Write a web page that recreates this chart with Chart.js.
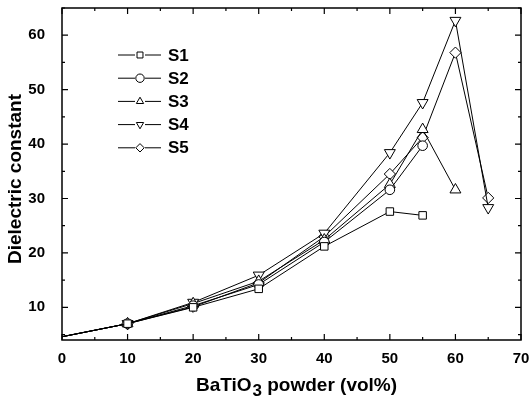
<!DOCTYPE html>
<html>
<head>
<meta charset="utf-8">
<script src="https://cdn.jsdelivr.net/npm/chart.js@4/dist/chart.umd.min.js"></script>
<style>
  html, body { margin: 0; padding: 0; background: #fff; }
  #wrap { width: 530px; height: 399px; }
</style>
</head>
<body>
<div id="wrap"><canvas id="dielectric_chart" width="530" height="399"></canvas></div>
<script>
// BaTiO3 loading (vol%) and measured dielectric constant per sample
const volPct = [0, 10, 20, 30, 40, 50, 55, 60, 65];
const s1 = [4.6, 7.0, 10.0, 13.4, 21.2, 27.6, 26.9, null, null];
const s2 = [4.6, 7.0, 10.3, 14.2, 22.0, 31.6, 39.7, null, null];
const s3 = [4.6, 7.0, 10.7, 14.8, 22.4, 32.6, 42.7, 31.6, null];
const s4 = [4.6, 7.0, 10.9, 15.9, 23.6, 38.4, 47.6, 62.7, 28.3];
const s5 = [4.6, 7.0, 10.1, 14.5, 23.0, 34.5, 41.2, 56.8, 30.1];
const seriesNames = ['S1', 'S2', 'S3', 'S4', 'S5'];

const xTicks = [0, 10, 20, 30, 40, 50, 60, 70];
const yTicks = [10, 20, 30, 40, 50, 60];

const FONT = '"Liberation Sans", Arial, Helvetica, sans-serif';

function toPoints(vals) {
  return volPct.map((x, i) => ({ x: x, y: vals[i] })).filter(p => p.y !== null);
}

const markers = [
  { style: 'rect', rot: 0, r: 5.3 },
  { style: 'circle', rot: 0, r: 4.8 },
  { style: 'triangle', rot: 0, r: 6.3 },
  { style: 'triangle', rot: 180, r: 6.3 },
  { style: 'rectRot', rot: 0, r: 5.6 }
];

const datasets = [s1, s2, s3, s4, s5].map((vals, i) => ({
  label: seriesNames[i],
  data: toPoints(vals),
  borderColor: '#000',
  borderWidth: 1,
  backgroundColor: '#fff',
  pointStyle: markers[i].style,
  pointRotation: markers[i].rot,
  pointRadius: ctx => (ctx.raw && ctx.raw.x === 0 ? 0 : markers[i].r),
  pointBorderColor: '#000',
  pointBackgroundColor: '#fff',
  pointBorderWidth: 1,
  tension: 0,
  clip: 8
}));

// frame with inward ticks on all four sides, titles and the inset legend
const framePlugin = {
  id: 'framePlugin',
  afterDraw(chart) {
    const ctx = chart.ctx;
    const a = chart.chartArea;
    const xs = chart.scales.x, ys = chart.scales.y;
    ctx.save();
    ctx.strokeStyle = '#000';
    ctx.lineWidth = 1.5;
    ctx.strokeRect(a.left, a.top, a.right - a.left, a.bottom - a.top);

    ctx.lineWidth = 1.2;
    ctx.beginPath();
    for (let v = 0; v <= 70; v += 5) {
      const px = xs.getPixelForValue(v);
      const len = v % 10 === 0 ? 6 : 3;
      ctx.moveTo(px, a.bottom); ctx.lineTo(px, a.bottom - len);
      ctx.moveTo(px, a.top); ctx.lineTo(px, a.top + len);
    }
    for (let v = 5; v <= 65; v += 5) {
      const py = ys.getPixelForValue(v);
      const len = v % 10 === 0 ? 6 : 3;
      ctx.moveTo(a.left, py); ctx.lineTo(a.left + len, py);
      ctx.moveTo(a.right, py); ctx.lineTo(a.right - len, py);
    }
    ctx.stroke();

    // y title
    ctx.fillStyle = '#000';
    ctx.font = 'bold 19px ' + FONT;
    ctx.textAlign = 'center';
    ctx.textBaseline = 'middle';
    ctx.save();
    ctx.translate(16, 179);
    ctx.rotate(-Math.PI / 2);
    ctx.fillText('Dielectric constant', 0, 0);
    ctx.restore();

    // x title with subscript
    const p1 = 'BaTiO', p2 = '3', p3 = ' powder (vol%)';
    ctx.textAlign = 'left';
    ctx.textBaseline = 'alphabetic';
    ctx.font = 'bold 19px ' + FONT;
    const w1 = ctx.measureText(p1).width;
    const w3 = ctx.measureText(p3).width;
    ctx.font = 'bold 17px ' + FONT;
    const w2 = ctx.measureText(p2).width;
    let tx = 296 - (w1 + w2 + w3) / 2;
    const base = 391;
    ctx.font = 'bold 19px ' + FONT;
    ctx.fillText(p1, tx, base); tx += w1;
    ctx.font = 'bold 17px ' + FONT;
    ctx.fillText(p2, tx + 1, base + 5); tx += w2 + 1;
    ctx.font = 'bold 19px ' + FONT;
    ctx.fillText(p3, tx, base);

    // legend
    const rowY = 55, step = 23.2;
    chart.data.datasets.forEach((ds, i) => {
      const y = rowY + i * step;
      ctx.strokeStyle = '#000';
      ctx.lineWidth = 1;
      ctx.beginPath();
      ctx.moveTo(118, y); ctx.lineTo(135, y);
      ctx.moveTo(145, y); ctx.lineTo(161, y);
      ctx.stroke();
      ctx.fillStyle = '#fff';
      const opts = { pointStyle: ds.pointStyle, rotation: ds.pointRotation, radius: 4.2, borderWidth: 1 };
      if (Chart.helpers && Chart.helpers.drawPoint) {
        Chart.helpers.drawPoint(ctx, opts, 140, y);
      }
      ctx.fillStyle = '#000';
      ctx.font = 'bold 17px ' + FONT;
      ctx.textAlign = 'left';
      ctx.textBaseline = 'middle';
      ctx.fillText(ds.label, 168, y + 1);
    });
    ctx.restore();
  }
};

new Chart(document.getElementById('dielectric_chart'), {
  type: 'line',
  data: { datasets: datasets },
  options: {
    responsive: false,
    animation: false,
    layout: { padding: { top: 8, right: 9, left: 0, bottom: 0 } },
    plugins: {
      legend: { display: false },
      tooltip: { enabled: false }
    },
    scales: {
      x: {
        type: 'linear',
        min: 0,
        max: 70,
        afterBuildTicks: scale => { scale.ticks = xTicks.map(v => ({ value: v })); },
        afterFit: scale => {
          scale.height = 59;
          scale.paddingLeft = 0;
          scale.paddingRight = 0;
        },
        grid: { display: false },
        border: { display: false },
        ticks: {
          color: '#000',
          padding: 2,
          maxRotation: 0,
          font: { family: FONT, size: 15, weight: 'bold' }
        }
      },
      y: {
        type: 'linear',
        min: 4,
        max: 65,
        afterBuildTicks: scale => { scale.ticks = yTicks.map(v => ({ value: v })); },
        afterFit: scale => {
          scale.width = 62;
          scale.paddingTop = 0;
          scale.paddingBottom = 0;
        },
        grid: { display: false },
        border: { display: false },
        ticks: {
          color: '#000',
          padding: 9,
          font: { family: FONT, size: 15, weight: 'bold' }
        }
      }
    }
  },
  plugins: [framePlugin]
});
</script>
</body>
</html>
